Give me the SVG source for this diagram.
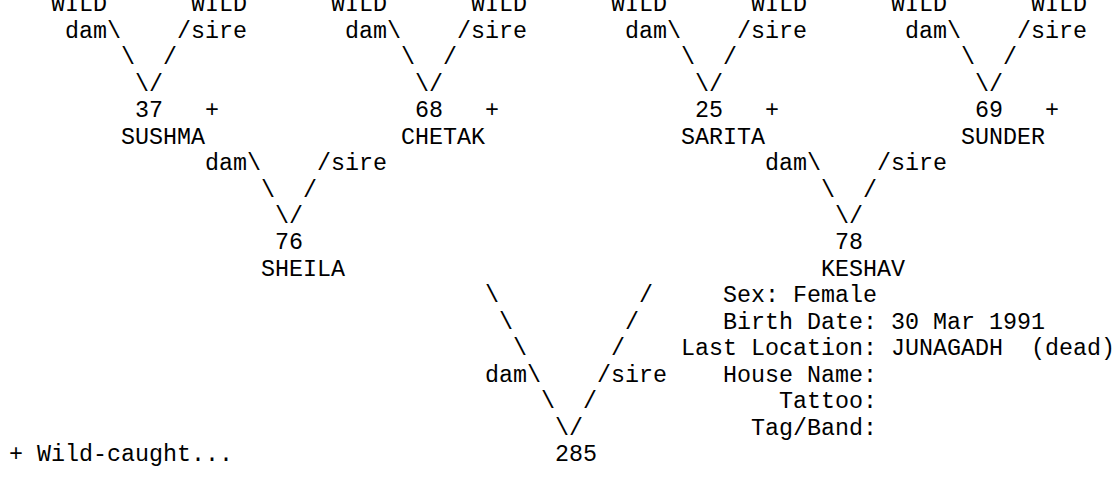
<svg xmlns="http://www.w3.org/2000/svg" width="1115" height="479" viewBox="0 0 1115 479">
<style>
text{font-family:"Liberation Mono","Courier New",monospace;font-size:23.333px;fill:#000;white-space:pre}
</style>
<rect width="1115" height="479" fill="#fff"/>
<g id="wild-nodes">
<g id="wild1"><text x="51" y="11.3">WILD</text></g>
<g id="wild2"><text x="191" y="11.3">WILD</text></g>
<g id="wild3"><text x="331" y="11.3">WILD</text></g>
<g id="wild4"><text x="471" y="11.3">WILD</text></g>
<g id="wild5"><text x="611" y="11.3">WILD</text></g>
<g id="wild6"><text x="751" y="11.3">WILD</text></g>
<g id="wild7"><text x="891" y="11.3">WILD</text></g>
<g id="wild8"><text x="1031" y="11.3">WILD</text></g>
</g>
<g id="node-37"><text x="135" y="117.1">37</text><text x="205" y="117.1">+</text><text x="121" y="143.6">SUSHMA</text></g>
<g id="node-68"><text x="415" y="117.1">68</text><text x="485" y="117.1">+</text><text x="401" y="143.6">CHETAK</text></g>
<g id="node-25"><text x="695" y="117.1">25</text><text x="765" y="117.1">+</text><text x="681" y="143.6">SARITA</text></g>
<g id="node-69"><text x="975" y="117.1">69</text><text x="1045" y="117.1">+</text><text x="961" y="143.6">SUNDER</text></g>
<g id="node-76"><text x="275" y="249.4">76</text><text x="261" y="275.9">SHEILA</text></g>
<g id="node-78"><text x="835" y="249.4">78</text><text x="821" y="275.9">KESHAV</text></g>
<g id="node-285">
<text x="555" y="461.1">285</text>
<text x="723" y="302.4">Sex: Female</text>
<text x="723" y="328.8">Birth Date: 30 Mar 1991</text>
<text x="681" y="355.3">Last Location: JUNAGADH  (dead)</text>
<text x="723" y="381.7">House Name:</text>
<text x="779" y="408.2">Tattoo:</text>
<text x="751" y="434.7">Tag/Band:</text>
</g>
<g id="legend"><text x="9" y="461.1">+ Wild-caught...</text></g>
<g id="connectors">
<text x="65" y="37.8">dam\</text><text x="177" y="37.8">/sire</text>
<text x="121" y="64.2">\</text><text x="163" y="64.2">/</text>
<text x="135" y="90.7">\/</text>
<text x="345" y="37.8">dam\</text><text x="457" y="37.8">/sire</text>
<text x="401" y="64.2">\</text><text x="443" y="64.2">/</text>
<text x="415" y="90.7">\/</text>
<text x="625" y="37.8">dam\</text><text x="737" y="37.8">/sire</text>
<text x="681" y="64.2">\</text><text x="723" y="64.2">/</text>
<text x="695" y="90.7">\/</text>
<text x="905" y="37.8">dam\</text><text x="1017" y="37.8">/sire</text>
<text x="961" y="64.2">\</text><text x="1003" y="64.2">/</text>
<text x="975" y="90.7">\/</text>
<text x="205" y="170.1">dam\</text><text x="317" y="170.1">/sire</text>
<text x="261" y="196.5">\</text><text x="303" y="196.5">/</text>
<text x="275" y="223">\/</text>
<text x="765" y="170.1">dam\</text><text x="877" y="170.1">/sire</text>
<text x="821" y="196.5">\</text><text x="863" y="196.5">/</text>
<text x="835" y="223">\/</text>
<text x="485" y="302.4">\</text><text x="639" y="302.4">/</text>
<text x="499" y="328.8">\</text><text x="625" y="328.8">/</text>
<text x="513" y="355.3">\</text><text x="611" y="355.3">/</text>
<text x="485" y="381.7">dam\</text><text x="597" y="381.7">/sire</text>
<text x="541" y="408.2">\</text><text x="583" y="408.2">/</text>
<text x="555" y="434.7">\/</text>
</g>
</svg>
